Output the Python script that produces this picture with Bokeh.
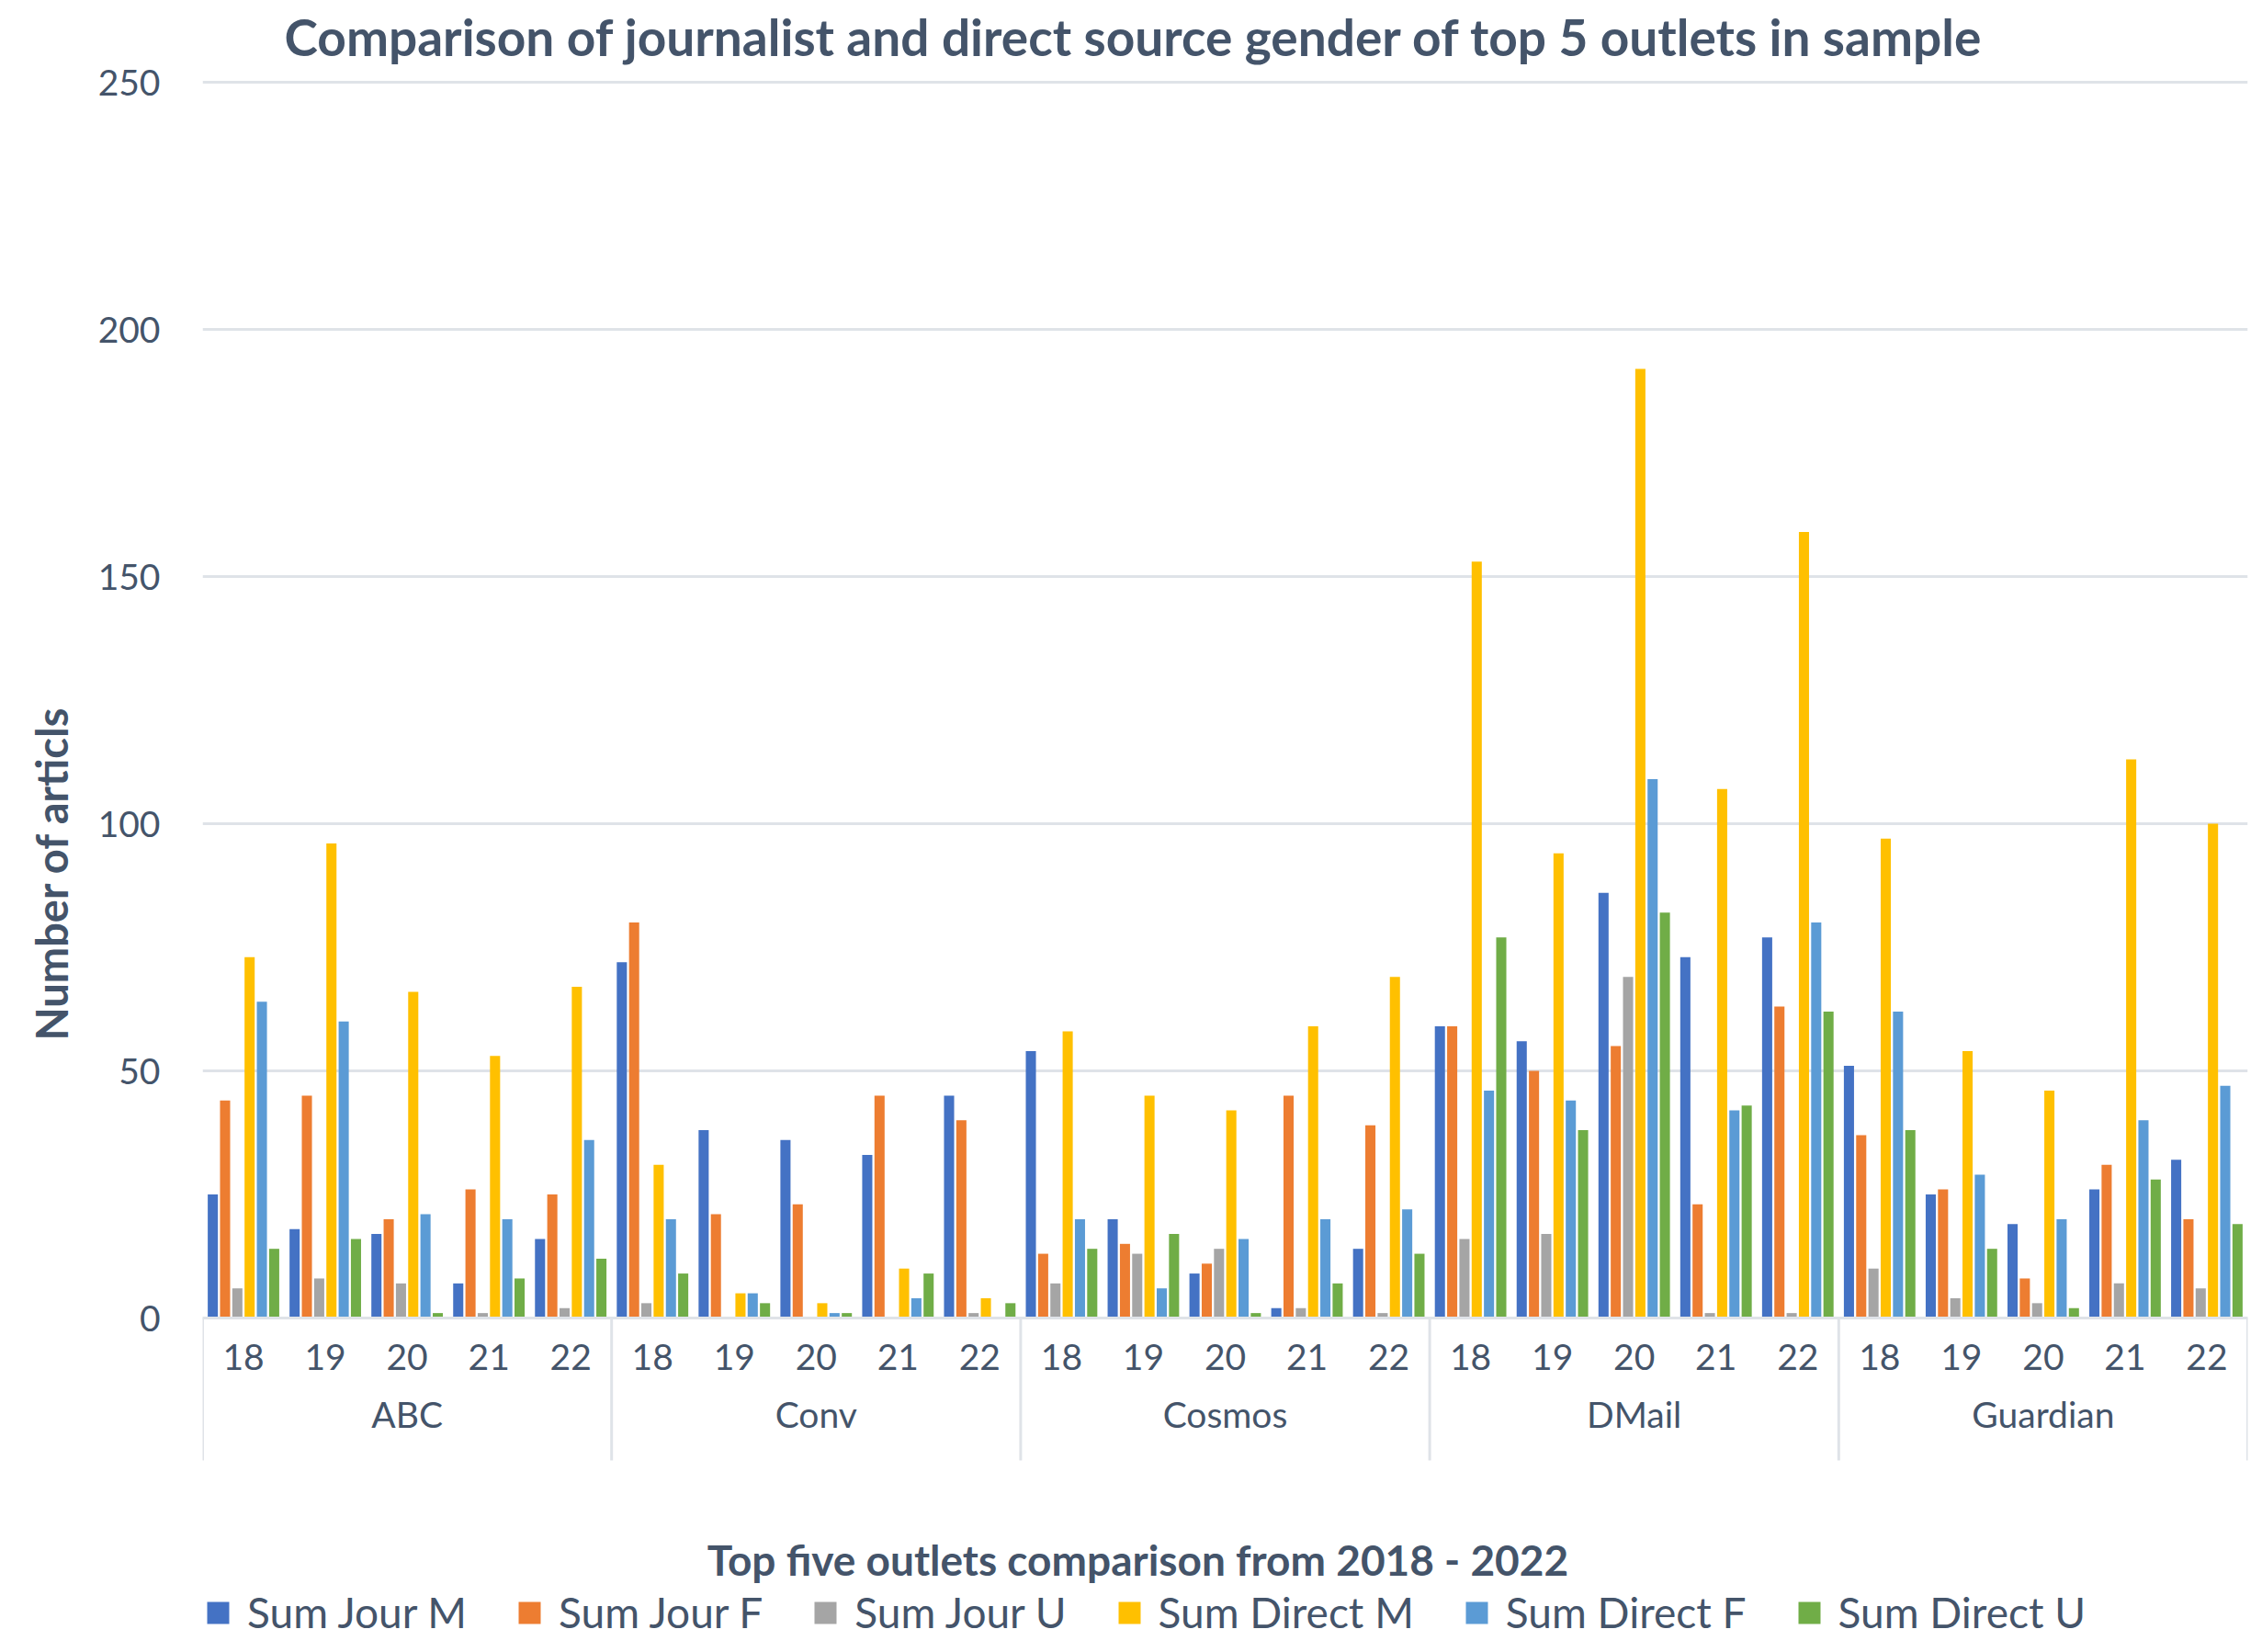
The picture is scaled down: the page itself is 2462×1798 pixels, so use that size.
from bokeh.plotting import figure
from bokeh.models import FactorRange, FixedTicker, Legend, LegendItem, Label, Title, ColumnDataSource
from bokeh.transform import dodge
from bokeh.embed import file_html
from bokeh.resources import INLINE

outlets = ["ABC", "Conv", "Cosmos", "DMail", "Guardian"]
years = ["18", "19", "20", "21", "22"]
series_names = ["Sum Jour M", "Sum Jour F", "Sum Jour U", "Sum Direct M", "Sum Direct F", "Sum Direct U"]

jour_m = [25, 18, 17, 7, 16, 72, 38, 36, 33, 45, 54, 20, 9, 2, 14, 59, 56, 86, 73, 77, 51, 25, 19, 26, 32]
jour_f = [44, 45, 20, 26, 25, 80, 21, 23, 45, 40, 13, 15, 11, 45, 39, 59, 50, 55, 23, 63, 37, 26, 8, 31, 20]
jour_u = [6, 8, 7, 1, 2, 3, 0, 0, 0, 1, 7, 13, 14, 2, 1, 16, 17, 69, 1, 1, 10, 4, 3, 7, 6]
direct_m = [73, 96, 66, 53, 67, 31, 5, 3, 10, 4, 58, 45, 42, 59, 69, 153, 94, 192, 107, 159, 97, 54, 46, 113, 100]
direct_f = [64, 60, 21, 20, 36, 20, 5, 1, 4, 0, 20, 6, 16, 20, 22, 46, 44, 109, 42, 80, 62, 29, 20, 40, 47]
direct_u = [14, 16, 1, 8, 12, 9, 3, 1, 9, 3, 14, 17, 1, 7, 13, 77, 38, 82, 43, 62, 38, 14, 2, 28, 19]

y_ticks = [0, 50, 100, 150, 200, 250]

colors = ["#4472c4", "#ed7d31", "#a5a5a5", "#ffc000", "#5b9bd5", "#70ad47"]
TEXT = "#44546a"
GRID = "#dfe3e8"
FONT = "Lato"

# layout (canvas pixels)
W, H = 2454, 1782
FRAME_LEFT, FRAME_RIGHT_PAD = 220, 8
ZERO_Y = 1434            # canvas row of the value 0
TOP_Y = 89               # canvas row of the top tick
Y_MAX = 250
px_per_unit = (ZERO_Y - TOP_Y) / Y_MAX
y_start = -(H - ZERO_Y) / px_per_unit
y_end = Y_MAX + TOP_Y / px_per_unit
sep_end = -(1589 - ZERO_Y) / px_per_unit   # bottom of the category separators

factors = [(o, y) for o in outlets for y in years]
source = ColumnDataSource(data=dict(
    x=factors, jm=jour_m, jf=jour_f, ju=jour_u, dm=direct_m, df=direct_f, du=direct_u))

x_range = FactorRange(*factors, factor_padding=0, group_padding=0, subgroup_padding=0, range_padding=0)

p = figure(x_range=x_range, y_range=(y_start, y_end), width=W, height=H, title=None,
           output_backend="svg", toolbar_location=None,
           min_border_left=FRAME_LEFT, min_border_right=FRAME_RIGHT_PAD,
           min_border_top=0, min_border_bottom=0)
p.outline_line_color = None
p.background_fill_color = "white"
p.border_fill_color = "white"

p.xgrid.grid_line_color = None
p.ygrid.ticker = FixedTicker(ticks=y_ticks)
p.ygrid.grid_line_color = GRID
p.ygrid.grid_line_width = 3

p.yaxis.ticker = FixedTicker(ticks=y_ticks)
p.yaxis.axis_line_color = None
p.yaxis.major_tick_line_color = None
p.yaxis.minor_tick_line_color = None
p.yaxis.major_label_standoff = 40
p.yaxis.major_label_text_font = FONT
p.yaxis.major_label_text_font_size = "39px"
p.yaxis.major_label_text_color = TEXT

p.xaxis.fixed_location = 0
p.xaxis.axis_line_color = GRID
p.xaxis.axis_line_width = 3
p.xaxis.major_tick_line_color = None
p.xaxis.minor_tick_line_color = None
p.xaxis.major_label_standoff = 22
p.xaxis.major_label_text_font = FONT
p.xaxis.major_label_text_font_size = "39px"
p.xaxis.major_label_text_color = TEXT
p.xaxis.group_text_font = FONT
p.xaxis.group_text_font_size = "39px"
p.xaxis.group_text_color = TEXT
p.xaxis.group_text_font_style = "normal"
p.xaxis.separator_line_color = None

# category separators: left edge of each outlet and the right edge of the last one
sep_src = ColumnDataSource(data=dict(x=[(o, years[0]) for o in outlets]))
p.segment(x0=dodge("x", -0.5, range=p.x_range), y0=0, x1=dodge("x", -0.5, range=p.x_range),
          y1=sep_end, source=sep_src, line_color=GRID, line_width=3)
end_src = ColumnDataSource(data=dict(x=[(outlets[-1], years[-1])]))
p.segment(x0=dodge("x", 0.5, range=p.x_range), y0=0, x1=dodge("x", 0.5, range=p.x_range),
          y1=sep_end, source=end_src, line_color=GRID, line_width=3)

offsets = [-0.375, -0.225, -0.075, 0.075, 0.225, 0.375]
cols = ["jm", "jf", "ju", "dm", "df", "du"]
items = []
for name, col, off, c in zip(series_names, cols, offsets, colors):
    r = p.vbar(x=dodge("x", off, range=p.x_range), top=col, width=0.124, source=source,
               fill_color=c, line_color=None)
    items.append(LegendItem(label=name, renderers=[r]))

legend = Legend(items=items, orientation="horizontal", location=(2, 0),
                glyph_width=30, glyph_height=30, label_standoff=17, spacing=53,
                padding=0, margin=0, border_line_color=None, background_fill_alpha=0,
                label_text_font=FONT, label_text_font_size="46px", label_text_color=TEXT)
p.add_layout(legend)

# chart title
p.add_layout(Label(x=89, y=H - 39, x_units="screen", y_units="screen",
                   text="Comparison of journalist and direct source gender of top 5 outlets in sample",
                   text_align="left", text_baseline="middle",
                   text_font=FONT, text_font_size="55px", text_font_style="bold",
                   text_color=TEXT))

# x axis title
p.add_layout(Label(x=1018, y=H - 1697, x_units="screen", y_units="screen",
                   text="Top five outlets comparison from 2018 - 2022",
                   text_align="center", text_baseline="middle",
                   text_font=FONT, text_font_size="46px", text_font_style="bold",
                   text_color=TEXT))

# y axis title
ytitle = Title(text="Number of articls", align="left", offset=H - 1122 - 10, standoff=40,
               text_font=FONT, text_font_size="47px", text_font_style="bold", text_color=TEXT)
p.add_layout(ytitle, "left")

open("out.html", "w").write(file_html(p, INLINE))
